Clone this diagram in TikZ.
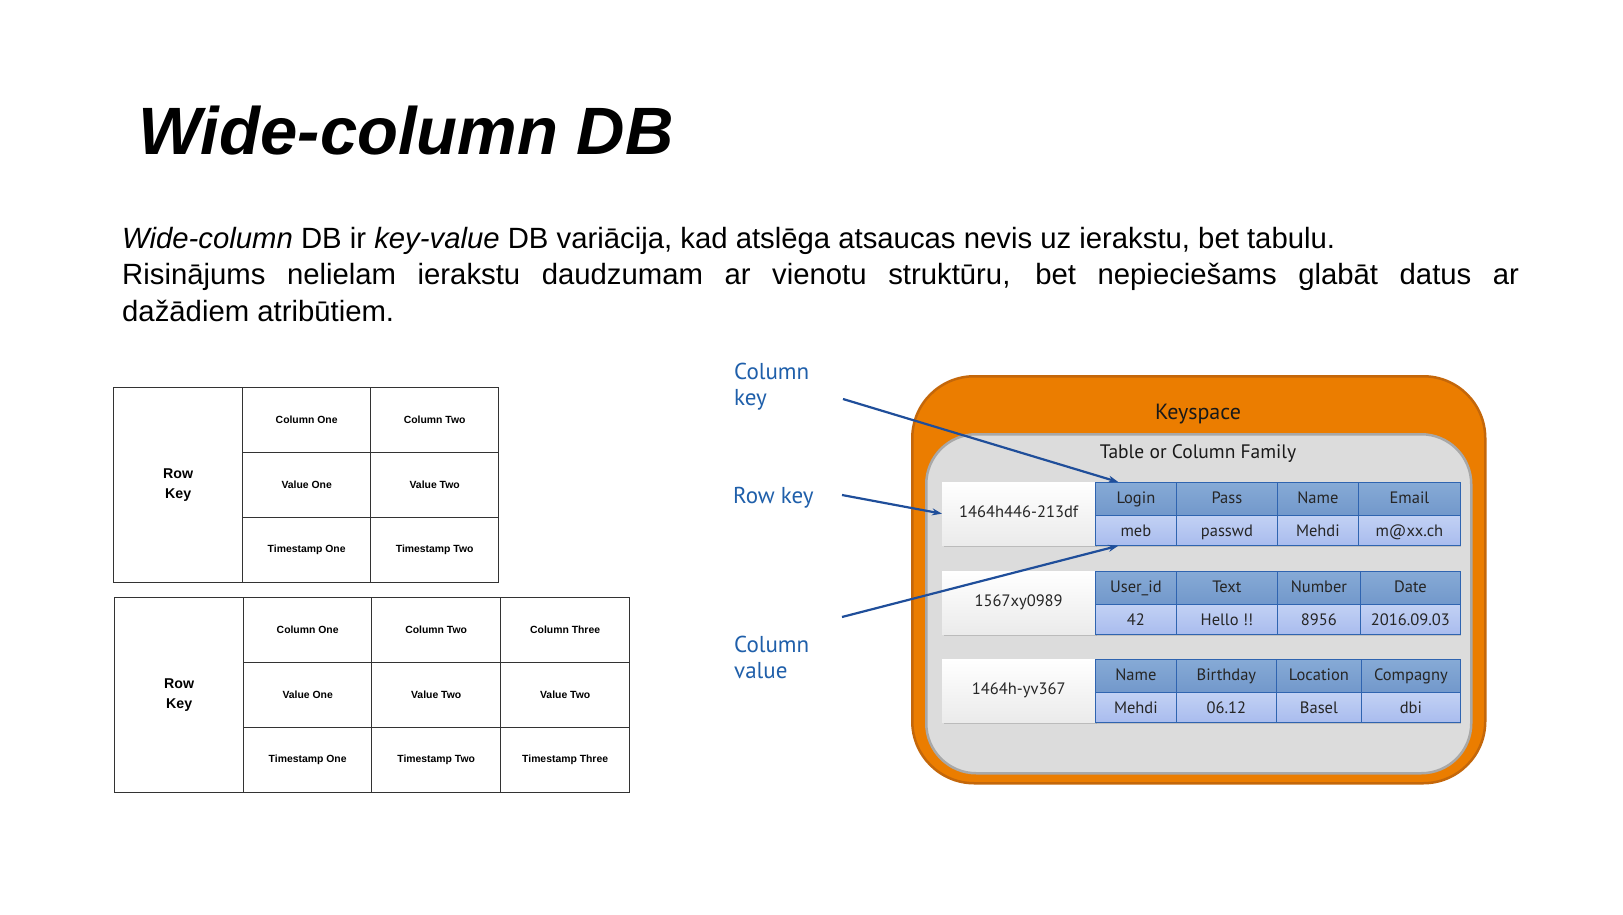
\documentclass[tikz,border=0pt]{standalone}
\usepackage{fontspec}
\setmainfont{Liberation Sans}
\newfontfamily\dinfont{PT Sans}
\usetikzlibrary{shadows,arrows.meta,calc}
\definecolor{arrowblue}{HTML}{1F4E9A}
\definecolor{labelblue}{HTML}{1F5FAA}
\definecolor{ksorange}{HTML}{EB7D00}
\definecolor{ksborder}{HTML}{C4670A}
\definecolor{cfgray}{HTML}{DCDCDC}
\definecolor{cfborder}{HTML}{A8A8A8}
\definecolor{hdrtop}{HTML}{86AAD6}
\definecolor{hdrbot}{HTML}{7298CB}
\definecolor{valtop}{HTML}{C2D1F4}
\definecolor{valbot}{HTML}{A9BCEE}
\definecolor{cellline}{HTML}{2F64B0}
\definecolor{gridline}{HTML}{333333}
\begin{document}
\begin{tikzpicture}[x=1pt,y=-1pt,
  gcell/.style={draw=gridline, line width=1.3pt, inner sep=0pt, anchor=north west,
    align=center, font=\fontsize{10.4}{12}\selectfont\bfseries},
  rkcell/.style={gcell, font=\fontsize{14.2}{20}\selectfont\bfseries},
  keyspacebox/.style={draw=ksborder, fill=ksorange, line width=2.5pt, rounded corners=62pt,
    inner sep=0pt, anchor=north west},
  familybox/.style={draw=cfborder, fill=cfgray, line width=2.5pt, rounded corners=50pt,
    inner sep=0pt, anchor=north west},
  keybox/.style={top color=white, bottom color=black!8, inner sep=0pt, anchor=north west,
    minimum width=153pt, minimum height=63pt, text height=12pt, text depth=3.5pt,
    drop shadow={shadow xshift=1.5pt, shadow yshift=-2pt, opacity=.35},
    font=\dinfont\fontsize{16.5}{18}\selectfont, text=black!85},
  hcell/.style={draw=cellline, line width=0.8pt, top color=hdrtop, bottom color=hdrbot,
    inner sep=0pt, anchor=north west, minimum height=33pt, text height=12pt, text depth=3pt,
    font=\dinfont\fontsize{16.5}{18}\selectfont, text=black!85},
  vcell/.style={draw=cellline, line width=0.8pt, top color=valtop, bottom color=valbot,
    inner sep=0pt, anchor=north west, minimum height=30pt, text height=12pt, text depth=0pt,
    drop shadow={shadow xshift=1pt, shadow yshift=-2pt, opacity=.3},
    font=\dinfont\fontsize{16.5}{18}\selectfont, text=black!85},
  sidelabel/.style={inner sep=0pt, anchor=base west, align=left, text=labelblue,
    font=\dinfont\fontsize{23}{26}\selectfont},
  conn/.style={draw=arrowblue, line width=2.2pt, -{Stealth[length=10pt,width=7pt]}}
]
\fill[white] (0,0) rectangle (1623,915);
\useasboundingbox (0,0) rectangle (1623,915);

% title and text
\node[inner sep=0pt, anchor=base west, font=\fontsize{67}{70}\selectfont\bfseries\itshape]
  (title) at (138,155) {Wide-column DB};
\node[inner sep=0pt, anchor=base west, text width=1397pt, align=justify,
  font=\fontsize{29.3}{36.5}\selectfont] (body) at (122,248)
  {\parindent=0pt\hyphenpenalty=10000\exhyphenpenalty=10000
   \textit{Wide-column} DB ir \textit{key-value} DB variācija, kad atslēga atsaucas nevis uz ierakstu, bet tabulu.\par
   Risinājums nelielam ierakstu daudzumam ar vienotu struktūru, bet nepieciešams glabāt datus ar\linebreak
   dažādiem atribūtiem.};

% table 1
\node[rkcell, minimum width=129pt, minimum height=195pt] (t1rk) at (113,387) {Row\\Key};
\node[gcell, minimum width=128pt, minimum height=65pt] (t1c1) at (242,387) {Column One};
\node[gcell, minimum width=128pt, minimum height=65pt] (t1c2) at (370,387) {Column Two};
\node[gcell, minimum width=128pt, minimum height=65pt] (t1v1) at (242,452) {Value One};
\node[gcell, minimum width=128pt, minimum height=65pt] (t1v2) at (370,452) {Value Two};
\node[gcell, minimum width=128pt, minimum height=65pt] (t1t1) at (242,517) {Timestamp One};
\node[gcell, minimum width=128pt, minimum height=65pt] (t1t2) at (370,517) {Timestamp Two};

% table 2
\node[rkcell, minimum width=129pt, minimum height=195pt] (t2rk) at (114,597) {Row\\Key};
\node[gcell, minimum width=128pt, minimum height=65pt] (t2c1) at (243,597) {Column One};
\node[gcell, minimum width=129pt, minimum height=65pt] (t2c2) at (371,597) {Column Two};
\node[gcell, minimum width=129pt, minimum height=65pt] (t2c3) at (500,597) {Column Three};
\node[gcell, minimum width=128pt, minimum height=65pt] (t2v1) at (243,662) {Value One};
\node[gcell, minimum width=129pt, minimum height=65pt] (t2v2) at (371,662) {Value Two};
\node[gcell, minimum width=129pt, minimum height=65pt] (t2v3) at (500,662) {Value Two};
\node[gcell, minimum width=128pt, minimum height=65pt] (t2t1) at (243,727) {Timestamp One};
\node[gcell, minimum width=129pt, minimum height=65pt] (t2t2) at (371,727) {Timestamp Two};
\node[gcell, minimum width=129pt, minimum height=65pt] (t2t3) at (500,727) {Timestamp Three};

% keyspace
\node[keyspacebox, minimum width=573pt, minimum height=407pt] (ks) at (911,375) {};
\node[inner sep=0pt, anchor=base, font=\dinfont\fontsize{22}{24}\selectfont, text=black!90]
  (kslabel) at (1198,419) {Keyspace};
\node[familybox, minimum width=545pt, minimum height=339pt] (cf) at (925,433) {};
\node[inner sep=0pt, anchor=base, font=\dinfont\fontsize{19.5}{22}\selectfont, text=black!90]
  (cflabel) at (1198,458) {Table or Column Family};

% row 1
\node[keybox] (k1) at (942,482) {1464h446-213df};
\node[hcell, minimum width=81pt] (h11) at (1095,482) {Login};
\node[hcell, minimum width=101pt] (h12) at (1176,482) {Pass};
\node[hcell, minimum width=81pt] (h13) at (1277,482) {Name};
\node[hcell, minimum width=102pt] (h14) at (1358,482) {Email};
\node[vcell, minimum width=81pt] (v11) at (1095,515) {meb};
\node[vcell, minimum width=101pt] (v12) at (1176,515) {passwd};
\node[vcell, minimum width=81pt] (v13) at (1277,515) {Mehdi};
\node[vcell, minimum width=102pt] (v14) at (1358,515) {m@xx.ch};

% row 2
\node[keybox] (k2) at (942,571) {1567xy0989};
\node[hcell, minimum width=81pt] (h21) at (1095,571) {User\_id};
\node[hcell, minimum width=101pt] (h22) at (1176,571) {Text};
\node[hcell, minimum width=83pt] (h23) at (1277,571) {Number};
\node[hcell, minimum width=100pt] (h24) at (1360,571) {Date};
\node[vcell, minimum width=81pt] (v21) at (1095,604) {42};
\node[vcell, minimum width=101pt] (v22) at (1176,604) {Hello !!};
\node[vcell, minimum width=83pt] (v23) at (1277,604) {8956};
\node[vcell, minimum width=100pt] (v24) at (1360,604) {2016.09.03};

% row 3
\node[keybox] (k3) at (942,659) {1464h-yv367};
\node[hcell, minimum width=81pt] (h31) at (1095,659) {Name};
\node[hcell, minimum width=100pt] (h32) at (1176,659) {Birthday};
\node[hcell, minimum width=85pt] (h33) at (1276,659) {Location};
\node[hcell, minimum width=99pt] (h34) at (1361,659) {Compagny};
\node[vcell, minimum width=81pt] (v31) at (1095,692) {Mehdi};
\node[vcell, minimum width=100pt] (v32) at (1176,692) {06.12};
\node[vcell, minimum width=85pt] (v33) at (1276,692) {Basel};
\node[vcell, minimum width=99pt] (v34) at (1361,692) {dbi};

% side labels (base anchor = last line)
\node[sidelabel] (lck) at (734,405) {Column\\key};
\node[sidelabel] (lrk) at (733,503) {Row key};
\node[sidelabel] (lcv) at (734,678) {Column\\value};

\coordinate (ckstart) at (843,399);
\coordinate (rkstart) at (842,495);
\coordinate (cvstart) at (842,617);
\draw[conn] (ckstart) -- ($(h11.north west)!0.284!(h11.north east)$);
\draw[conn] (rkstart) -- (k1.west);
\draw[conn] (cvstart) -- ($(v11.south west)!0.284!(v11.south east)$);
\end{tikzpicture}
\end{document}
